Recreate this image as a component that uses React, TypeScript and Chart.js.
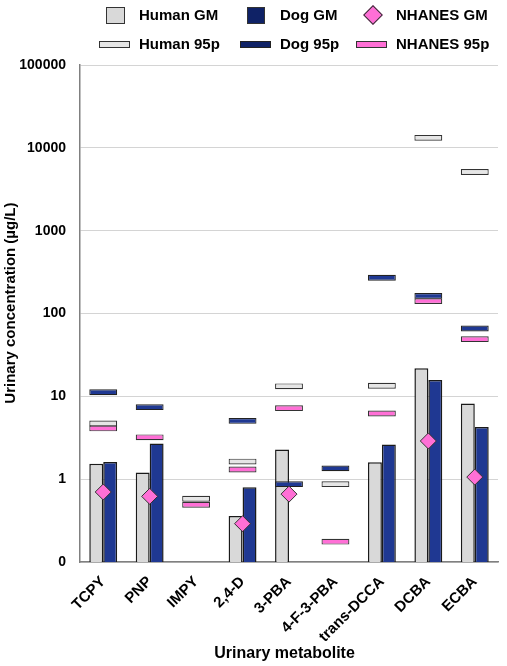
import React, { useEffect, useRef } from 'react';
import { Chart, registerables } from 'chart.js';

Chart.register(...registerables);

const categories = ['TCPY', 'PNP', 'IMPY', '2,4-D', '3-PBA', '4-F-3-PBA', 'trans-DCCA', 'DCBA', 'ECBA'];
const humanGM = [1.54, 1.2, null, 0.36, 2.28, null, 1.6, 21.8, 8.2];
const dogGM = [1.61, 2.7, null, 0.8, null, null, 2.62, 15.7, 4.27];
const nhanesGM = [0.7, 0.62, null, 0.29, 0.66, null, null, 2.89, 1.06];
const human95p = [4.7, null, 0.58, 1.63, 13.2, 0.87, 13.4, 13200, 5100];
const dog95p = [11.2, 7.4, null, 5.05, 0.87, 1.35, 270, 163, 66];
const nhanes95p = [4.1, 3.2, 0.49, 1.31, 7.2, 0.176, 6.2, 141, 49];
const yTicks = [0.1, 1, 10, 100, 1000, 10000, 100000];

const FONT = "'Liberation Sans', Arial, Helvetica, sans-serif";
const GRAY = '#d9d9d9';
const NAVY = '#1f3892';
const NAVY_LEGEND = '#0f2266';
const PINK = '#ff6fd6';
const EDGE = '#1a1a1a';
const MARK = 1.085; // half-height of a 95p marker as a factor on the log axis

const band = (arr: (number | null)[]) => arr.map((v) => (v == null ? null : [v / MARK, v * MARK]));

function Legend() {
  const text = (label: string, left: number, cy: number) => (
    <div
      style={{
        position: 'absolute',
        left,
        top: cy - 9,
        height: 18,
        lineHeight: '18px',
        font: `bold 15px ${FONT}`,
        color: '#000',
        whiteSpace: 'nowrap',
      }}
    >
      {label}
    </div>
  );
  const box = (left: number, top: number, w: number, h: number, bg: string, extra: any = {}) => (
    <div
      style={{
        position: 'absolute',
        left,
        top,
        width: w,
        height: h,
        boxSizing: 'border-box',
        background: bg,
        border: `1.5px solid #333`,
        ...extra,
      }}
    />
  );
  return (
    <>
      {box(106, 7, 19, 17, GRAY)}
      {text('Human GM', 139, 15)}
      {box(247, 7, 18, 17, NAVY_LEGEND)}
      {text('Dog GM', 280, 15)}
      {box(366, 8, 14, 14, PINK, { transform: 'rotate(45deg)' })}
      {text('NHANES GM', 396, 15)}
      {box(99, 41, 31, 7, '#e6e6e6', { border: '1.2px solid #333' })}
      {text('Human 95p', 139, 44)}
      {box(240, 41, 31, 7, NAVY_LEGEND, { border: '1.2px solid #222' })}
      {text('Dog 95p', 280, 44)}
      {box(356, 41, 31, 7, PINK, { border: '1.2px solid #333' })}
      {text('NHANES 95p', 396, 44)}
    </>
  );
}

export default function App() {
  const ref = useRef<HTMLCanvasElement>(null);

  useEffect(() => {
    if (!ref.current) return;
    const tickFont = { family: FONT, size: 14, weight: 'bold' as const };
    const chart = new Chart(ref.current, {
      type: 'bar',
      data: {
        labels: categories,
        datasets: [
          {
            type: 'line',
            label: 'NHANES GM',
            data: nhanesGM as any,
            showLine: false,
            pointStyle: 'rectRot',
            pointRadius: 8,
            pointBackgroundColor: PINK,
            pointBorderColor: '#333',
            pointBorderWidth: 1,
            order: 0,
          } as any,
          {
            label: 'NHANES 95p',
            data: band(nhanes95p) as any,
            grouped: false,
            backgroundColor: PINK,
            borderColor: '#333',
            borderWidth: 1.2,
            borderSkipped: false,
            categoryPercentage: 0.6,
            barPercentage: 1,
            order: 1,
          } as any,
          {
            label: 'Dog 95p',
            data: band(dog95p) as any,
            grouped: false,
            backgroundColor: NAVY,
            borderColor: '#222',
            borderWidth: 1.2,
            borderSkipped: false,
            categoryPercentage: 0.6,
            barPercentage: 1,
            order: 2,
          } as any,
          {
            label: 'Human 95p',
            data: band(human95p) as any,
            grouped: false,
            backgroundColor: '#e6e6e6',
            borderColor: '#333',
            borderWidth: 1.2,
            borderSkipped: false,
            categoryPercentage: 0.6,
            barPercentage: 1,
            order: 3,
          } as any,
          {
            label: 'Human GM',
            data: humanGM as any,
            backgroundColor: GRAY,
            borderColor: EDGE,
            borderWidth: 1.5,
            categoryPercentage: 0.6,
            barPercentage: 1,
            order: 4,
          } as any,
          {
            label: 'Dog GM',
            data: dogGM as any,
            backgroundColor: NAVY,
            borderColor: EDGE,
            borderWidth: 1.5,
            categoryPercentage: 0.6,
            barPercentage: 1,
            order: 5,
          } as any,
        ],
      },
      options: {
        animation: false,
        responsive: false,
        layout: { padding: { top: 65, right: 4, bottom: 0, left: 3 } },
        plugins: {
          legend: { display: false },
          tooltip: { enabled: false },
        },
        scales: {
          x: {
            offset: true,
            grid: { display: false, drawTicks: false },
            border: { display: true, color: '#808080', width: 1.5 },
            ticks: {
              color: '#000',
              font: { family: FONT, size: 15, weight: 'bold' },
              minRotation: 45,
              maxRotation: 45,
              padding: 11,
              autoSkip: false,
            },
            title: {
              display: true,
              text: 'Urinary metabolite  ',
              color: '#000',
              font: { family: FONT, size: 16, weight: 'bold' },
              padding: { top: 2, bottom: 3 },
            },
            afterFit: (axis: any) => {
              axis.height = 104;
            },
          },
          y: {
            type: 'logarithmic',
            min: 0.1,
            max: 100000,
            afterBuildTicks: (axis: any) => {
              axis.ticks = yTicks.map((v) => ({ value: v }));
            },
            afterFit: (axis: any) => {
              axis.width = 77;
            },
            grid: { color: '#d4d4d4', lineWidth: 1, drawTicks: false },
            border: { display: true, color: '#808080', width: 1.5 },
            ticks: {
              color: '#000',
              font: tickFont,
              padding: 14,
              autoSkip: false,
              callback: (v: any) => (Number(v) < 1 ? '0' : String(Number(v))),
            },
            title: {
              display: true,
              text: '     Urinary concentration (µg/L)',
              color: '#000',
              font: { family: FONT, size: 15, weight: 'bold', lineHeight: 1.0 },
              padding: { top: 0, bottom: 0 },
            },
          },
        },
      } as any,
    });
    return () => chart.destroy();
  }, []);

  return (
    <div style={{ position: 'fixed', left: 0, top: 0, width: 507, height: 666, background: '#fff' }}>
      <canvas ref={ref} width={507} height={666} style={{ position: 'absolute', left: 0, top: 0 }} />
      <Legend />
    </div>
  );
}
